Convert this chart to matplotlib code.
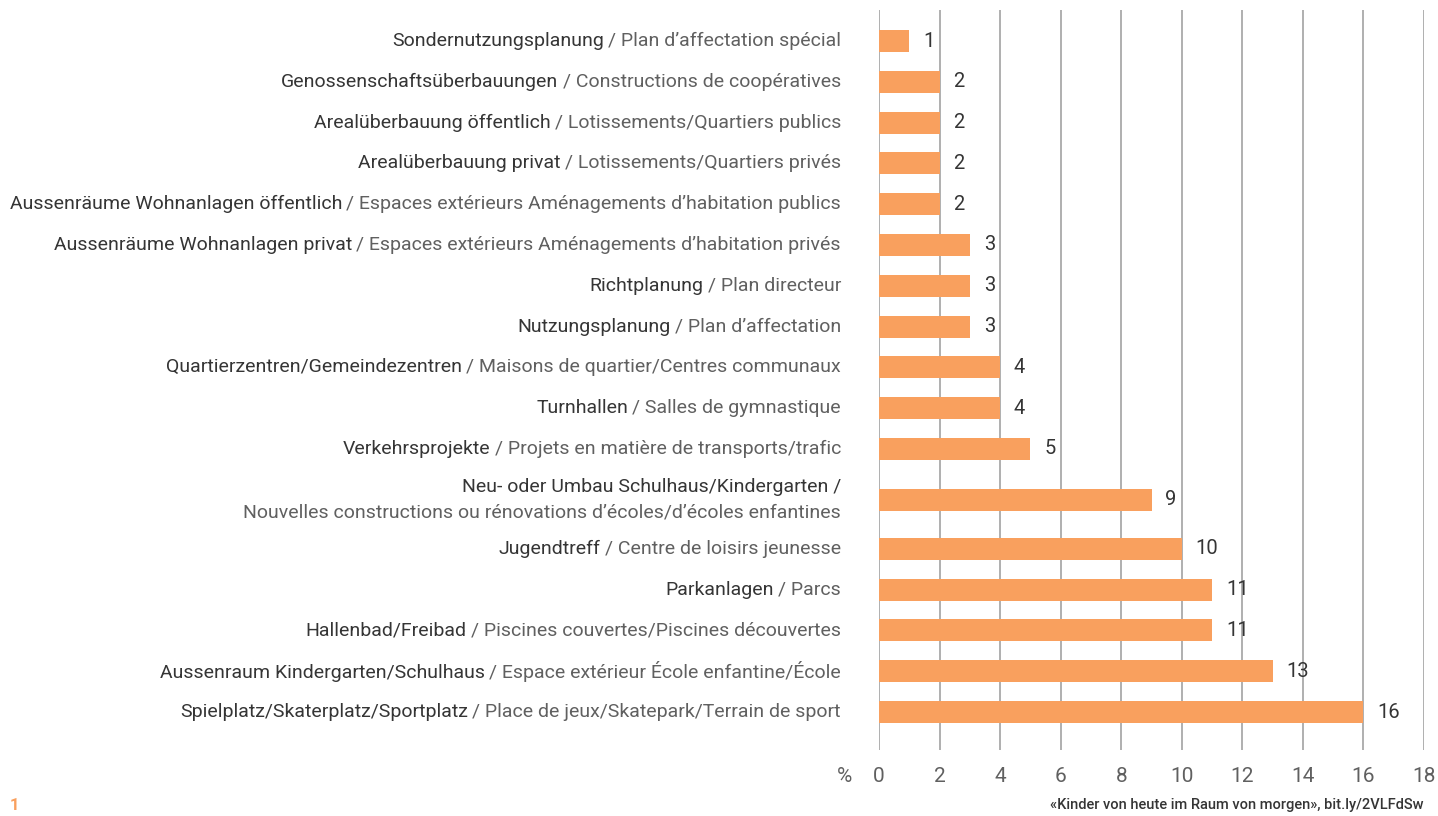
import numpy as np
from matplotlib import pyplot as plt

plt.rcParams['font.family'] = ['Roboto', 'DejaVu Sans']

# categories, top to bottom
german = ['Sondernutzungsplanung', 'Genossenschaftsüberbauungen', 'Arealüberbauung öffentlich',
          'Arealüberbauung privat', 'Aussenräume Wohnanlagen öffentlich', 'Aussenräume Wohnanlagen privat',
          'Richtplanung', 'Nutzungsplanung', 'Quartierzentren/Gemeindezentren', 'Turnhallen',
          'Verkehrsprojekte', 'Neu- oder Umbau Schulhaus/Kindergarten', 'Jugendtreff', 'Parkanlagen',
          'Hallenbad/Freibad', 'Aussenraum Kindergarten/Schulhaus', 'Spielplatz/Skaterplatz/Sportplatz']
french = ['Plan d’affectation spécial', 'Constructions de coopératives', 'Lotissements/Quartiers publics',
          'Lotissements/Quartiers privés', 'Espaces extérieurs Aménagements d’habitation publics',
          'Espaces extérieurs Aménagements d’habitation privés', 'Plan directeur', 'Plan d’affectation',
          'Maisons de quartier/Centres communaux', 'Salles de gymnastique',
          'Projets en matière de transports/trafic',
          'Nouvelles constructions ou rénovations d’écoles/d’écoles enfantines',
          'Centre de loisirs jeunesse', 'Parcs', 'Piscines couvertes/Piscines découvertes',
          'Espace extérieur École enfantine/École', 'Place de jeux/Skatepark/Terrain de sport']
values = [1, 2, 2, 2, 2, 3, 3, 3, 4, 4, 5, 9, 10, 11, 11, 13, 16]
ticks = list(range(0, 19, 2))
two_line = 11  # this label is on two lines

ORANGE = '#F9A05E'
DARK = '#353535'
GRAY = '#606060'
FS = 14

# row positions: extra room around the two-line label
pos = np.arange(len(values), dtype=float)
pos[two_line] += 0.25
pos[two_line + 1:] += 0.45

fig = plt.figure(figsize=(14.38, 8.16), dpi=100)
ax = fig.add_axes([879 / 1438, 1 - 750 / 816, 545 / 1438, 740 / 816])

ax.barh(pos, values, height=0.54, color=ORANGE, zorder=2)
ax.set_xlim(0, 18)
ax.set_ylim(pos[-1] + 0.93, -0.76)
for s in ax.spines.values():
    s.set_visible(False)
ax.set_yticks([])
ax.set_xticks(ticks)
ax.set_xticklabels([str(t) for t in ticks])
ax.tick_params(axis='x', length=0, pad=12, labelsize=15, labelcolor=GRAY)
for t in ticks:
    ax.axvline(t, color='#9a9a9a', lw=1.1, zorder=1)

for p, v in zip(pos, values):
    ax.annotate(str(v), xy=(v, p), xytext=(10, 0), textcoords='offset points',
                ha='left', va='center', fontsize=FS + 0.5, color=DARK)

lx = (841 - 879) / 545
tr = ax.get_yaxis_transform()
for i, (g, f) in enumerate(zip(german, french)):
    if i == two_line:
        ax.text(lx, pos[i] - 0.31, g + ' /', transform=tr, ha='right', va='center',
                fontsize=FS, color=DARK)
        ax.text(lx, pos[i] + 0.31, f, transform=tr, ha='right', va='center',
                fontsize=FS, color=GRAY)
        continue
    ft = ax.text(lx, pos[i], '/ ' + f, transform=tr, ha='right', va='center',
                 fontsize=FS, color=GRAY)
    ax.annotate(g, xy=(0, 0), xycoords=ft, xytext=(-3, 0), textcoords='offset points',
                ha='right', va='bottom', fontsize=FS, color=DARK)

fig.text(845 / 1438, 1 - 776 / 816, '%', ha='center', va='center', fontsize=15, color=GRAY)
fig.text(10 / 1438, 1 - 805 / 816, '1', ha='left', va='center', fontsize=12,
         fontweight='bold', color=ORANGE)
fig.text(1424 / 1438, 1 - 805 / 816, '«Kinder von heute im Raum von morgen», bit.ly/2VLFdSw',
         ha='right', va='center', fontsize=10.5, fontweight='medium', color=DARK)

fig.savefig('out.png', dpi=100)
